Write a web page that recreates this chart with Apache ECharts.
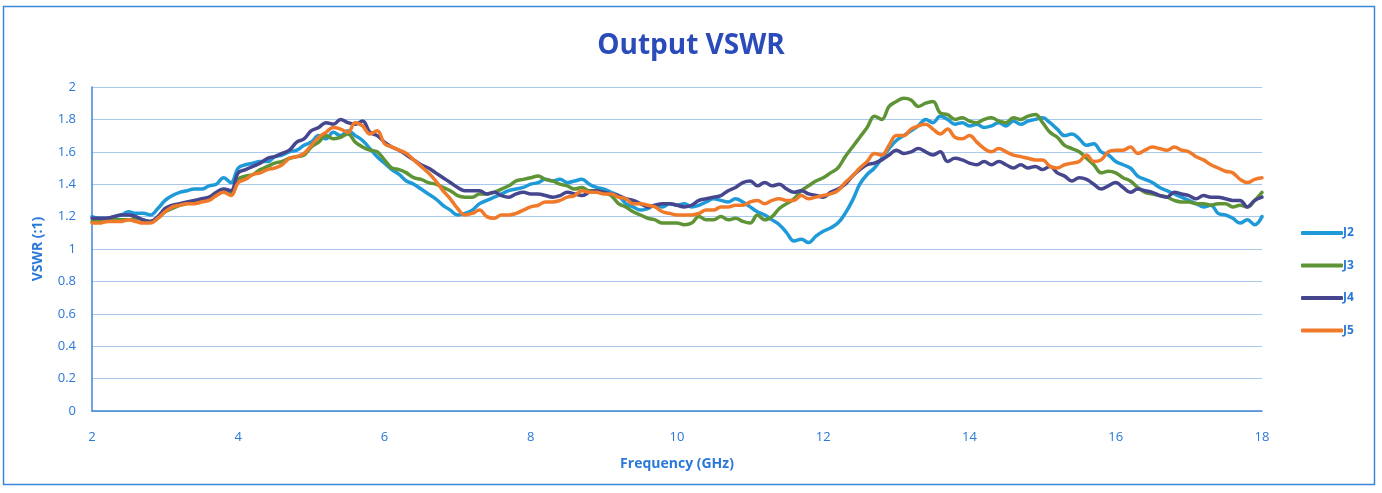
<!DOCTYPE html>
<html>
<head>
<meta charset="utf-8">
<script src="https://cdn.jsdelivr.net/npm/echarts@6/dist/echarts.min.js"></script>
<style>
html,body{margin:0;padding:0;background:#ffffff;}
#chart{width:1382px;height:493px;}
</style>
</head>
<body>
<div id="chart"></div>
<script>
// Frequency axis: 2.0 .. 18.0 GHz in 0.1 GHz steps
var freqStart = 2.0, freqStep = 0.1;
var seriesNames = ["J2", "J3", "J4", "J5"];
var xTicks = [2, 4, 6, 8, 10, 12, 14, 16, 18];
var yTicks = [0, 0.2, 0.4, 0.6, 0.8, 1, 1.2, 1.4, 1.6, 1.8, 2];

var J2 = [
 1.20,1.19,1.19,1.20,1.21,1.23,1.22,1.22,1.21,1.25,
 1.30,1.33,1.35,1.36,1.37,1.37,1.39,1.40,1.44,1.41,
 1.50,1.52,1.53,1.54,1.54,1.57,1.58,1.60,1.61,1.64,
 1.66,1.70,1.68,1.72,1.70,1.73,1.70,1.67,1.62,1.57,
 1.53,1.49,1.46,1.42,1.40,1.37,1.34,1.31,1.27,1.24,
 1.21,1.22,1.24,1.28,1.30,1.32,1.34,1.36,1.37,1.38,
 1.40,1.41,1.43,1.42,1.43,1.41,1.42,1.43,1.40,1.38,
 1.37,1.35,1.33,1.28,1.26,1.24,1.25,1.27,1.26,1.28,
 1.27,1.28,1.26,1.27,1.29,1.31,1.30,1.29,1.31,1.29,
 1.26,1.23,1.21,1.18,1.15,1.10,1.05,1.06,1.04,1.08,
 1.11,1.13,1.16,1.22,1.30,1.40,1.46,1.50,1.56,1.62,
 1.67,1.70,1.73,1.76,1.80,1.78,1.82,1.80,1.77,1.78,
 1.76,1.77,1.75,1.76,1.78,1.76,1.79,1.77,1.79,1.80,
 1.81,1.78,1.74,1.70,1.71,1.68,1.64,1.65,1.60,1.58,
 1.54,1.52,1.50,1.45,1.43,1.41,1.38,1.36,1.34,1.32,
 1.30,1.28,1.26,1.27,1.22,1.21,1.19,1.16,1.18,1.15,
 1.20
];
var J3 = [
 1.17,1.17,1.17,1.18,1.18,1.18,1.19,1.18,1.17,1.19,
 1.23,1.25,1.27,1.28,1.29,1.30,1.31,1.33,1.36,1.34,
 1.43,1.45,1.46,1.49,1.51,1.53,1.54,1.56,1.57,1.58,
 1.63,1.66,1.70,1.68,1.69,1.71,1.66,1.63,1.61,1.60,
 1.55,1.50,1.49,1.47,1.44,1.43,1.41,1.40,1.38,1.36,
 1.33,1.32,1.32,1.34,1.34,1.35,1.37,1.39,1.42,1.43,
 1.44,1.45,1.43,1.42,1.40,1.39,1.37,1.38,1.36,1.36,
 1.35,1.33,1.28,1.26,1.23,1.21,1.19,1.18,1.16,1.16,
 1.16,1.15,1.16,1.20,1.18,1.18,1.20,1.18,1.19,1.17,
 1.16,1.21,1.18,1.20,1.25,1.28,1.31,1.36,1.39,1.42,
 1.44,1.47,1.50,1.57,1.63,1.69,1.75,1.82,1.80,1.88,
 1.91,1.93,1.92,1.88,1.90,1.91,1.84,1.83,1.80,1.81,
 1.79,1.78,1.80,1.81,1.79,1.78,1.81,1.80,1.82,1.83,
 1.78,1.72,1.69,1.64,1.62,1.60,1.56,1.52,1.47,1.48,
 1.47,1.44,1.42,1.38,1.35,1.34,1.33,1.32,1.30,1.29,
 1.29,1.28,1.28,1.27,1.28,1.28,1.26,1.27,1.26,1.30,
 1.35
];
var J4 = [
 1.19,1.19,1.19,1.20,1.21,1.21,1.20,1.18,1.17,1.20,
 1.25,1.27,1.28,1.29,1.30,1.31,1.32,1.35,1.37,1.36,
 1.47,1.49,1.51,1.53,1.56,1.57,1.59,1.61,1.66,1.68,
 1.73,1.75,1.78,1.77,1.80,1.78,1.77,1.79,1.72,1.70,
 1.66,1.63,1.61,1.58,1.55,1.52,1.50,1.47,1.44,1.41,
 1.38,1.36,1.36,1.36,1.34,1.35,1.33,1.32,1.34,1.35,
 1.34,1.34,1.33,1.32,1.33,1.35,1.34,1.33,1.35,1.36,
 1.35,1.34,1.33,1.31,1.30,1.28,1.26,1.27,1.28,1.28,
 1.27,1.26,1.27,1.30,1.31,1.32,1.33,1.36,1.38,1.41,
 1.42,1.39,1.41,1.39,1.40,1.37,1.35,1.36,1.34,1.33,
 1.32,1.35,1.37,1.40,1.45,1.49,1.52,1.53,1.55,1.58,
 1.61,1.59,1.60,1.62,1.60,1.58,1.60,1.54,1.56,1.55,
 1.53,1.52,1.54,1.52,1.54,1.52,1.50,1.52,1.50,1.51,
 1.49,1.51,1.47,1.45,1.42,1.44,1.43,1.40,1.37,1.39,
 1.41,1.38,1.35,1.37,1.36,1.35,1.33,1.32,1.35,1.34,
 1.33,1.31,1.33,1.32,1.32,1.31,1.30,1.30,1.26,1.30,
 1.32
];
var J5 = [
 1.16,1.16,1.17,1.17,1.17,1.18,1.17,1.16,1.16,1.19,
 1.23,1.26,1.27,1.28,1.28,1.29,1.30,1.33,1.35,1.33,
 1.41,1.43,1.46,1.47,1.49,1.50,1.52,1.56,1.57,1.59,
 1.64,1.69,1.72,1.75,1.74,1.72,1.78,1.76,1.71,1.73,
 1.65,1.63,1.61,1.59,1.55,1.51,1.47,1.42,1.36,1.31,
 1.25,1.21,1.22,1.24,1.20,1.19,1.21,1.21,1.22,1.24,
 1.26,1.27,1.29,1.29,1.30,1.32,1.33,1.36,1.35,1.35,
 1.34,1.34,1.32,1.31,1.28,1.28,1.27,1.26,1.23,1.22,
 1.21,1.21,1.21,1.22,1.24,1.24,1.26,1.26,1.27,1.27,
 1.29,1.30,1.28,1.30,1.31,1.30,1.30,1.33,1.31,1.32,
 1.33,1.34,1.36,1.41,1.45,1.50,1.54,1.59,1.58,1.64,
 1.70,1.70,1.74,1.76,1.77,1.74,1.71,1.74,1.69,1.68,
 1.70,1.66,1.62,1.60,1.62,1.60,1.58,1.57,1.56,1.55,
 1.55,1.51,1.50,1.52,1.53,1.54,1.58,1.54,1.55,1.60,
 1.61,1.61,1.63,1.59,1.61,1.63,1.62,1.61,1.63,1.61,
 1.60,1.57,1.55,1.52,1.50,1.48,1.47,1.43,1.41,1.43,
 1.44
];

var seriesValues = [J2, J3, J4, J5];
var seriesColors = ["#1f9ad8", "#5e9435", "#45468e", "#f17a2a"];
var labelBlue = "#2a78d8";
var gridBlue = "#a8c8ec";

function toPairs(arr) {
  return arr.map(function (v, i) {
    return [Math.round((freqStart + i * freqStep) * 10) / 10, v];
  });
}

var chart = echarts.init(document.getElementById('chart'), null, { renderer: 'canvas' });

var series = seriesNames.map(function (name, k) {
  return {
    name: name,
    type: 'line',
    data: toPairs(seriesValues[k]),
    showSymbol: false,
    symbol: 'none',
    smooth: 0.4,
    lineStyle: { width: 3.5, color: seriesColors[k], cap: 'round', join: 'round' },
    itemStyle: { color: seriesColors[k] },
    z: 2 + k
  };
});

var option = {
  backgroundColor: '#ffffff',
  animation: false,
  title: {
    text: 'Output VSWR',
    left: 'center',
    top: 27,
    textStyle: { fontFamily: 'Open Sans', fontWeight: 'bold', fontSize: 28, color: '#2b4bbb' }
  },
  graphic: [{
    type: 'rect',
    shape: { x: 3.5, y: 6.5, width: 1371, height: 478 },
    style: { fill: 'none', stroke: '#3c86d9', lineWidth: 1.5 },
    silent: true,
    z: 0
  }],
  legend: {
    orient: 'vertical',
    left: 1296,
    top: 222,
    itemGap: 20.5,
    itemWidth: 42,
    itemHeight: 4,
    icon: 'roundRect',
    data: seriesNames,
    textStyle: { color: labelBlue, fontFamily: 'Open Sans', fontWeight: 'bold', fontSize: 12, padding: [0, 0, 0, -5] }
  },
  grid: { left: 92, right: 120, top: 87, bottom: 82, containLabel: false },
  xAxis: {
    type: 'value',
    min: 2, max: 18, interval: 2,
    name: 'Frequency (GHz)',
    nameLocation: 'middle',
    nameGap: 46,
    nameTextStyle: { color: labelBlue, fontFamily: 'Open Sans', fontWeight: 'bold', fontSize: 14 },
    axisLine: { show: true, lineStyle: { color: '#3f86d6', width: 1.5 } },
    axisTick: { show: false },
    axisLabel: { color: labelBlue, fontFamily: 'Open Sans', fontSize: 13, margin: 20,
      formatter: function (v) { return xTicks.indexOf(v) >= 0 ? String(v) : ''; } },
    splitLine: { show: false }
  },
  yAxis: {
    type: 'value',
    min: 0, max: 2, interval: 0.2,
    name: 'VSWR (:1)',
    nameLocation: 'middle',
    nameGap: 47,
    nameRotate: 90,
    nameTextStyle: { color: labelBlue, fontFamily: 'Open Sans', fontWeight: 'bold', fontSize: 14 },
    axisLine: { show: true, lineStyle: { color: '#3f86d6', width: 1.5 } },
    axisTick: { show: false },
    axisLabel: { color: labelBlue, fontFamily: 'Open Sans', fontSize: 13, margin: 16,
      formatter: function (v) {
        var r = Math.round(v * 10) / 10;
        for (var i = 0; i < yTicks.length; i++) { if (Math.abs(yTicks[i] - r) < 1e-9) return String(yTicks[i]); }
        return '';
      } },
    splitLine: { show: true, lineStyle: { color: gridBlue, width: 1.2 } }
  },
  series: series
};

chart.setOption(option);
</script>
</body>
</html>
